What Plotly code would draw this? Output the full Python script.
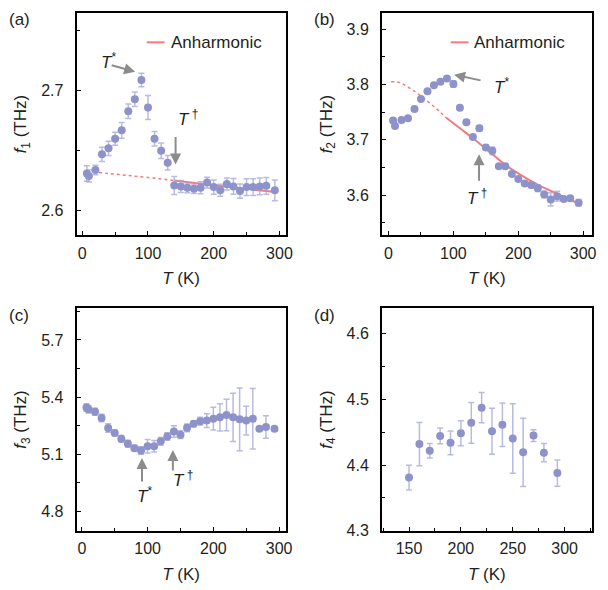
import plotly.graph_objects as go
from plotly.subplots import make_subplots

# ---------------- data ----------------
T_main = [7, 10, 20, 30, 40, 50, 60, 70, 80, 90, 100, 110, 120, 130, 140,
          150, 160, 170, 180, 190, 200, 210, 220, 230, 240, 250, 260, 270, 280, 293]

f1 = [2.631, 2.629, 2.634, 2.647, 2.652, 2.660, 2.667, 2.683, 2.693, 2.709,
      2.686, 2.660, 2.650, 2.640, 2.621, 2.6203, 2.6191, 2.6183, 2.6191, 2.6235,
      2.6197, 2.617, 2.6224, 2.6203, 2.6164, 2.6197, 2.6197, 2.6203, 2.6208, 2.617]
f1_err = [0.0065, 0.005, 0.004, 0.006, 0.006, 0.0055, 0.0065, 0.006, 0.006, 0.0057,
          0.010, 0.006, 0.0065, 0.006, 0.0075, 0.005, 0.004, 0.004, 0.005, 0.0045,
          0.006, 0.005, 0.005, 0.0066, 0.006, 0.007, 0.007, 0.007, 0.007, 0.0086]

f2 = [3.735, 3.725, 3.736, 3.739, 3.756, 3.774, 3.788, 3.799, 3.805, 3.811,
      3.801, 3.758, 3.732, 3.705, 3.721, 3.686, 3.680, 3.652, 3.652, 3.638,
      3.629, 3.621, 3.618, 3.6125, 3.601, 3.592, 3.598, 3.593, 3.594, 3.586]
f2_err = [0.004, 0.004, 0.003, 0.003, 0.003, 0.004, 0.003, 0.003, 0.003, 0.003,
          0.006, 0.003, 0.004, 0.004, 0.005, 0.004, 0.007, 0.003, 0.003, 0.004,
          0.004, 0.004, 0.005, 0.006, 0.006, 0.012, 0.009, 0.004, 0.003, 0.006]

f3 = [5.345, 5.336, 5.3225, 5.290, 5.237, 5.211, 5.180, 5.154, 5.131, 5.119,
      5.141, 5.141, 5.167, 5.192, 5.219, 5.202, 5.238, 5.259, 5.273, 5.276,
      5.286, 5.293, 5.305, 5.293, 5.283, 5.276, 5.286, 5.233, 5.242, 5.233]
f3_err = [0.02, 0.02, 0.018, 0.02, 0.022, 0.015, 0.018, 0.018, 0.015, 0.02,
          0.035, 0.03, 0.02, 0.02, 0.03, 0.02, 0.02, 0.015, 0.02, 0.036,
          0.06, 0.072, 0.083, 0.127, 0.165, 0.076, 0.159, 0.01, 0.059, 0.01]

T_d = [150, 160, 170, 180, 190, 200, 210, 220, 230, 240, 250, 260, 270, 280, 293]
f4 = [4.381, 4.432, 4.422, 4.4445, 4.434, 4.4485, 4.4645, 4.4875, 4.4515, 4.4615,
      4.4405, 4.4195, 4.445, 4.419, 4.388]
f4_err = [0.019, 0.033, 0.011, 0.012, 0.018, 0.019, 0.031, 0.023, 0.035, 0.033,
          0.053, 0.052, 0.009, 0.014, 0.020]

# anharmonic model curves
T_anh1_dot = [7, 40, 70, 100, 140]
f_anh1_dot = [2.6328, 2.6311, 2.6294, 2.6277, 2.6252]
T_anh1_sol = [140, 180, 220, 260, 293]
f_anh1_sol = [2.6252, 2.6226, 2.6201, 2.6177, 2.6156]

T_anh2_dot = [4, 17, 32, 48, 63, 78, 89]
f_anh2_dot = [3.805, 3.8036, 3.794, 3.781, 3.767, 3.752, 3.740]
T_anh2_sol = [89, 110, 131, 155, 182, 210, 233, 260, 285, 295]
f_anh2_sol = [3.740, 3.721, 3.702, 3.679, 3.653, 3.632, 3.617, 3.602, 3.589, 3.583]

# tick values
xt_major = [0, 100, 200, 300]
xt_major_d = [150, 200, 250, 300]
yt_major = {1: [2.6, 2.7], 2: [3.6, 3.7, 3.8, 3.9], 3: [4.8, 5.1, 5.4, 5.7], 4: [4.3, 4.4, 4.5, 4.6]}

# ---------------- style ----------------
FONT = "Liberation Sans, Arial, Helvetica, sans-serif"
INK = "#231F20"
LINE = "black"
MARK = "rgb(142,146,202)"
ERR = "rgba(160,164,214,0.75)"
RED = "rgb(242,124,124)"
GREY = "#8C8C8C"

fig = make_subplots(rows=2, cols=2)

def add_points(T, f, err, row, col):
    fig.add_trace(go.Scatter(
        x=T, y=f, mode="markers",
        marker=dict(size=8, color=MARK, line=dict(width=0)),
        error_y=dict(type="data", array=err, visible=True, color=ERR,
                     thickness=1.5, width=3),
        showlegend=False), row=row, col=col)

def add_line(T, f, dash, width, row, col):
    fig.add_trace(go.Scatter(
        x=T, y=f, mode="lines", line=dict(color=RED, width=width, dash=dash,
                                            shape="spline"),
        showlegend=False, hoverinfo="skip"), row=row, col=col)

add_line(T_anh1_dot, f_anh1_dot, "dot", 1.5, 1, 1)
add_line(T_anh1_sol, f_anh1_sol, "solid", 2, 1, 1)
add_points(T_main, f1, f1_err, 1, 1)
add_line(T_anh2_dot, f_anh2_dot, "dot", 1.5, 1, 2)
add_line(T_anh2_sol, f_anh2_sol, "solid", 2, 1, 2)
add_points(T_main, f2, f2_err, 1, 2)
add_points(T_main, f3, f3_err, 2, 1)
add_points(T_d, f4, f4_err, 2, 2)

W, H = 608, 590
def px(x):
    return x / W
def py(y):
    return (H - y) / H

dom_x = {1: [px(77.5), px(289)], 2: [px(386.5), px(598.5)]}
dom_y = {1: [py(239), py(13)], 2: [py(539), py(313)]}

ranges = {
    (1, 1): dict(x=[-8.6, 309.5], y=[2.5795, 2.765], dx=100, dy=0.1),
    (1, 2): dict(x=[-10, 313], y=[3.527, 3.930], dx=100, dy=0.1),
    (2, 1): dict(x=[-8, 310], y=[4.6965, 5.867], dx=100, dy=0.3),
    (2, 2): dict(x=[124, 326], y=[4.3, 4.639], dx=50, dy=0.1),
}
ytitles = {(1, 1): "<i>f</i><sub>1</sub> (THz)", (1, 2): "<i>f</i><sub>2</sub> (THz)",
           (2, 1): "<i>f</i><sub>3</sub> (THz)", (2, 2): "<i>f</i><sub>4</sub> (THz)"}

for (r, c), rg in ranges.items():
    k = (r - 1) * 2 + c
    xmaj = xt_major_d if k == 4 else xt_major
    fig.update_xaxes(row=r, col=c, domain=dom_x[c], range=rg["x"],
                     showline=True, linecolor=LINE, linewidth=2, mirror=True,
                     ticks="inside", tickcolor=LINE, ticklen=4, tickwidth=1,
                     showgrid=False, zeroline=False,
                     tick0=xmaj[0], dtick=rg["dx"],
                     minor=dict(ticks="inside", ticklen=3, tickwidth=1, tickcolor=LINE,
                                dtick=rg["dx"] / 2, showgrid=False),
                     tickfont=dict(family=FONT, size=16, color=INK),
                     ticklabelstandoff=2,
                     title=dict(text="<i>T</i> (K)", font=dict(family=FONT, size=17, color=INK),
                                standoff=12))
    fig.update_yaxes(row=r, col=c, domain=dom_y[r], range=rg["y"],
                     showline=True, linecolor=LINE, linewidth=2, mirror=True,
                     ticks="inside", tickcolor=LINE, ticklen=4, tickwidth=1,
                     showgrid=False, zeroline=False,
                     tick0=yt_major[k][0], dtick=rg["dy"],
                     minor=dict(ticks="inside", ticklen=3, tickwidth=1, tickcolor=LINE,
                                dtick=rg["dy"] / 2, showgrid=False),
                     tickfont=dict(family=FONT, size=16, color=INK),
                     ticklabelstandoff=8,
                     title=dict(text=ytitles[(r, c)], font=dict(family=FONT, size=17, color=INK),
                                standoff=10))

shapes = []
annotations = []

for lab, x, y in [("(a)", 20, 20), ("(b)", 328, 20), ("(c)", 19, 320), ("(d)", 328, 320)]:
    annotations.append(dict(text=lab, x=px(x), y=py(y), xref="paper", yref="paper",
                            showarrow=False, xanchor="center", yanchor="middle",
                            font=dict(family=FONT, size=17, color=INK)))

for x0, x1, xt in [(148.5, 166.5, 170.5), (456, 474, 478)]:
    shapes.append(dict(type="line", xref="paper", yref="paper",
                       x0=px(x0), x1=px(x1), y0=py(43), y1=py(43),
                       line=dict(color=RED, width=2)))
    annotations.append(dict(text="Anharmonic", x=px(xt), y=py(43), xref="paper", yref="paper",
                            showarrow=False, xanchor="left", yanchor="middle",
                            font=dict(family=FONT, size=17, color=INK)))

TSTAR = "<i>T</i><sup>*</sup>"
TDAG = "<i>T</i><sup> †</sup>"

def arrow(xr, yr, x, y, ax, ay):
    annotations.append(dict(text="", x=x, y=y, xref=xr, yref=yr, ax=ax, ay=ay,
                            showarrow=True, arrowhead=2, arrowsize=1.1, arrowwidth=2,
                            arrowcolor=GREY))

def label(xr, yr, x, y, txt):
    annotations.append(dict(text=txt, x=x, y=y, xref=xr, yref=yr, showarrow=False,
                            xanchor="center", yanchor="middle",
                            font=dict(family=FONT, size=17, color=INK)))

arrow("x", "y", 80.5, 2.7158, -25, -7)
label("x", "y", 40, 2.7246, TSTAR)
arrow("x", "y", 142, 2.6385, 0, -29)
label("x", "y", 161, 2.6775, TDAG)
arrow("x2", "y2", 101, 3.8179, 28, 6)
label("x2", "y2", 174, 3.798, TSTAR)
arrow("x2", "y2", 139.5, 3.6738, 0, 28)
label("x2", "y2", 137, 3.5964, TDAG)
arrow("x3", "y3", 91.5, 5.0794, 0, 25)
label("x3", "y3", 95, 4.885, TSTAR)
arrow("x3", "y3", 138.4, 5.122, 0, 22)
label("x3", "y3", 154, 4.971, TDAG)

fig.update_layout(
    width=W, height=H,
    margin=dict(l=0, r=0, t=0, b=0),
    paper_bgcolor="white", plot_bgcolor="white",
    font=dict(family=FONT, size=16, color=INK),
    showlegend=False,
    annotations=annotations, shapes=shapes,
)

fig.write_html("out.html", config={"displayModeBar": False},
               post_script="document.body.style.margin='0px';")
